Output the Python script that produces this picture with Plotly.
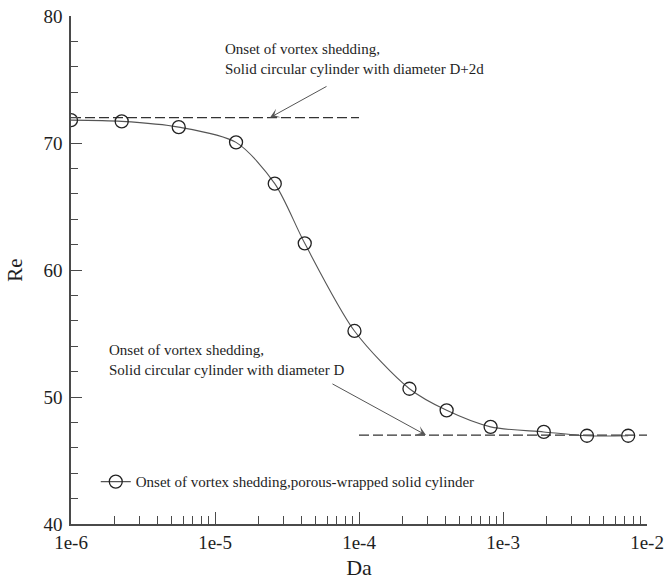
import plotly.graph_objects as go

# Data
da = [1.0e-6, 2.25e-6, 5.6e-6, 1.4e-5, 2.6e-5, 4.2e-5, 9.3e-5, 2.24e-4, 4.06e-4, 8.2e-4, 1.92e-3, 3.83e-3, 7.4e-3]
re = [71.8, 71.7, 71.25, 70.05, 66.8, 62.1, 55.2, 50.65, 48.95, 47.65, 47.25, 46.95, 46.95]

upper_x = [1e-6, 1e-4]
upper_re = [72, 72]
lower_x = [1e-4, 1e-2]
lower_re = [47, 47]

xtick_vals = [1e-6, 1e-5, 1e-4, 1e-3, 1e-2]
xtick_text = ["1e-6", "1e-5", "1e-4", "1e-3", "1e-2"]
xminor_vals = [m * 10.0 ** e for e in range(-6, -2) for m in range(2, 10)]

FONT = "Liberation Serif"
AX = "#4a4a4a"
TXT = "#1e1e1e"

fig = go.Figure()

for xs, ys in ((upper_x, upper_re), (lower_x, lower_re)):
    fig.add_trace(go.Scatter(
        x=xs, y=ys, mode="lines",
        line=dict(color="#333", width=1.3, dash="10px,4px"),
        showlegend=False, hoverinfo="skip"))

fig.add_trace(go.Scatter(
    x=da, y=re, mode="lines+markers",
    name="Onset of vortex shedding,porous-wrapped solid cylinder",
    line=dict(color="#555", width=1.1, shape="spline", smoothing=0.8),
    marker=dict(symbol="circle-open", size=13, color="#222", line=dict(width=1.3, color="#222"))))

fig.update_layout(
    width=665, height=588,
    margin=dict(l=71, r=18, t=16, b=64, autoexpand=False),
    paper_bgcolor="white", plot_bgcolor="white",
    font=dict(family=FONT, color=TXT, size=19),
    showlegend=True,
    legend=dict(x=0.043, y=0.083, xanchor="left", yanchor="middle",
                bgcolor="rgba(0,0,0,0)", font=dict(size=15, family=FONT, color=TXT)),
)

fig.update_xaxes(
    type="log", range=[-6, -2], automargin=False,
    tickvals=xtick_vals, ticktext=xtick_text,
    ticks="inside", ticklen=12, tickwidth=1.3, tickcolor=AX,
    minor=dict(tickvals=xminor_vals, ticks="inside", ticklen=8, tickwidth=1.2, tickcolor=AX),
    showline=True, linecolor=AX, linewidth=1.5,
    showgrid=False, zeroline=False,
    tickfont=dict(size=19, family=FONT, color=TXT),
    title=dict(text="Da", font=dict(size=22, family=FONT, color=TXT), standoff=8),
)
fig.update_yaxes(
    range=[40, 80], dtick=10, tick0=40, automargin=False,
    ticks="inside", ticklen=11, tickwidth=1.3, tickcolor=AX,
    minor=dict(dtick=2, ticks="inside", ticklen=7, tickwidth=1.2, tickcolor=AX),
    showline=True, linecolor=AX, linewidth=1.5,
    showgrid=False, zeroline=False, ticklabelstandoff=3,
    tickfont=dict(size=19, family=FONT, color=TXT),
    title=dict(text="Re", font=dict(size=21, family=FONT, color=TXT), standoff=15),
)

# Arrows
fig.add_annotation(x=-4.618, y=72, xref="x", yref="y", ax=58, ay=-32,
                   showarrow=True, arrowhead=3, arrowsize=1.6, arrowwidth=1, arrowcolor="#555", text="")
fig.add_annotation(x=-3.535, y=47, xref="x", yref="y", ax=-95, ay=-52,
                   showarrow=True, arrowhead=3, arrowsize=1.6, arrowwidth=1, arrowcolor="#555", text="")

# Text labels
fig.add_annotation(x=-4.944, y=76.6, xref="x", yref="y", xanchor="left", yanchor="middle",
                   showarrow=False, align="left",
                   text="Onset of vortex shedding,<br>Solid circular cylinder with diameter D+2d",
                   font=dict(size=15, family=FONT, color=TXT))
fig.add_annotation(x=-5.75, y=52.9, xref="x", yref="y", xanchor="left", yanchor="middle",
                   showarrow=False, align="left",
                   text="Onset of vortex shedding,<br>Solid circular cylinder with diameter D",
                   font=dict(size=15, family=FONT, color=TXT))

fig.write_html("out.html", config={"displayModeBar": False},
               post_script="document.body.style.margin='0';document.body.style.overflow='hidden';")
